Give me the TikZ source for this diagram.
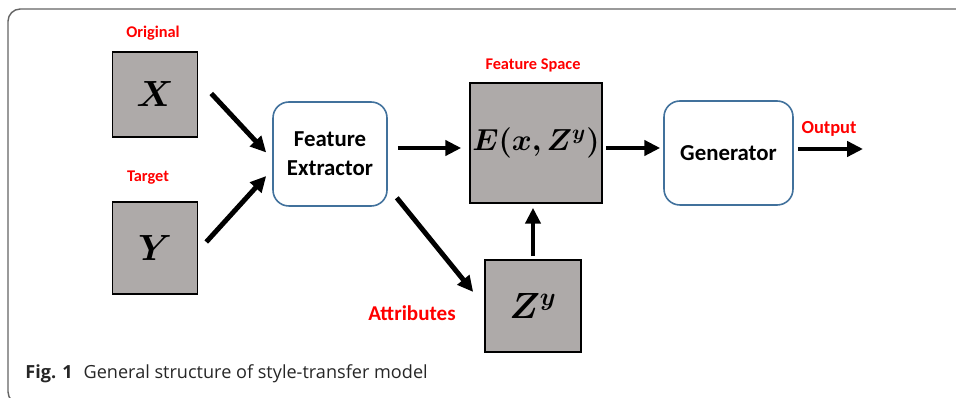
\documentclass[tikz,border=0pt]{standalone}
\usepackage{fontspec}
\usepackage{amsmath,bm}
\setmainfont{Carlito}
\newfontfamily\capfont{Open Sans}
\usetikzlibrary{calc,arrows.meta}
\definecolor{boxgray}{RGB}{174,170,169}
\definecolor{edgeblue}{RGB}{65,113,156}
\definecolor{framegray}{RGB}{100,100,100}
\tikzset{
  databox/.style={draw=black, line width=0.9pt, fill=boxgray, inner sep=0pt, font=\fontsize{20}{24}\selectfont},
  procbox/.style={draw=edgeblue, line width=0.9pt, rounded corners=9pt, fill=white, align=center, inner sep=0pt, font=\bfseries\fontsize{13}{16.5}\selectfont},
  redlbl/.style={text=red, font=\bfseries\fontsize{9.3}{11}\selectfont, inner sep=0pt},
  arr/.style={-{Triangle[length=9pt,width=8.5pt]}, line width=2.8pt, black},
}

\begin{document}
\begin{tikzpicture}[x=0.02cm, y=-0.02cm]
			%%%%% START %%%%%
			\useasboundingbox (0,0) rectangle (956,398);
			\begin{scope}
				\clip (0,0) rectangle (956,398);
				\draw[framegray, line width=0.8pt, rounded corners=7pt] (960,9) -- (8,9) -- (8,404) -- (30,404);
			\end{scope}
			
			% inputs
			\node[databox, minimum width=1.7cm, minimum height=1.7cm] (X) at (155,94.5) {$\bm{X}$};
			\node[databox, minimum width=1.7cm, minimum height=1.84cm] (Y) at (155,248) {$\bm{Y}$};
			\node[redlbl] (orig) at (153,33) {Original};
			\node[redlbl] (targ) at (148,178) {Target};
			
			% feature extractor
			\node[procbox, minimum width=2.28cm, minimum height=2.08cm] (FE) at (330,154) {Feature\\Extractor};
			
			% feature space
			\node[databox, minimum width=2.64cm, minimum height=2.4cm, font=\fontsize{16.5}{20}\selectfont] (E) at (536,143) {$\bm{E(x,Z^{y})}$};
			\node[redlbl] (fspace) at (533,65) {Feature Space};
			
			% attributes
			\node[databox, minimum width=1.92cm, minimum height=1.84cm] (Zy) at (533,306) {$\bm{Z^{y}}$};
			\node[redlbl, font=\bfseries\fontsize{12}{14}\selectfont] (attr) at (412,313) {Attributes};
			
			% generator
			\node[procbox, minimum width=2.58cm, minimum height=2.08cm] (Gen) at (728.5,153) {Generator};
			\node[redlbl, font=\bfseries\fontsize{10.5}{12}\selectfont] (outlbl) at (829,129) {Output};
			\coordinate (out) at (863,149);
			
			% arrows
			\draw[arr] ($(X.east)+(13,-1)$) -- ($(FE.west)+(-6,-1.5)$);
			\draw[arr] ($(Y.east)+(8,-6)$) -- ($(FE.west)+(-6,22)$);
			\draw[arr] ($(FE.east)+(10,-6)$) -- ($(E.west)+(-8,5)$);
			\draw[arr] ($(E.east)+(3,5)$) -- ($(Gen.west)+(-3,-5)$);
			\draw[arr] ($(Gen.east)+(4,-4)$) -- (out);
			\draw[arr] ($(FE.south east)+(9,-9)$) -- ($(Zy.west)+(-11,-14)$);
			\draw[arr] ($(Zy.north)+(0,-3)$) -- ($(Zy.north |- E.south)+(0,4)$);
			
			% caption
			\node[anchor=base west, inner sep=0pt, text=black!85, font=\capfont\fontsize{10.3}{12}\selectfont] (cap) at (25,378) {\textbf{Fig. 1}\hspace{0.6em}General structure of style-transfer model};
			%%%%% END %%%%%
\end{tikzpicture}
\end{document}
